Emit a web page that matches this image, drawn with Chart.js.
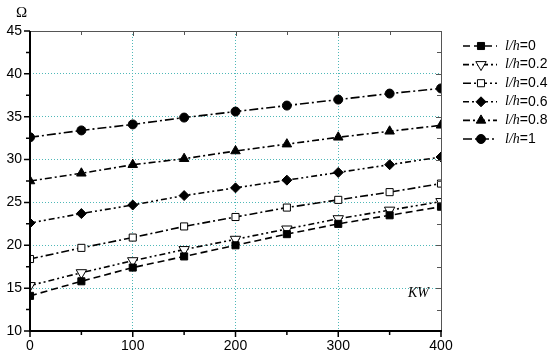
<!DOCTYPE html>
<html>
<head>
<meta charset="utf-8">
<script src="https://cdn.jsdelivr.net/npm/chart.js@4"></script>
<style>
  body { margin: 0; background: #fff; }
  #wrap { width: 550px; height: 356px; }
</style>
</head>
<body>
<div id="wrap"><canvas id="chart" width="550" height="356"></canvas></div>
<script>
// data
const kw = [0, 50, 100, 150, 200, 250, 300, 350, 400];
const lh0  = [14.1, 15.8, 17.4, 18.7, 20.0, 21.3, 22.5, 23.5, 24.5];
const lh02 = [15.3, 16.8, 18.2, 19.5, 20.7, 21.9, 23.1, 24.1, 25.1];
const lh04 = [18.4, 19.7, 20.9, 22.2, 23.3, 24.4, 25.3, 26.2, 27.2];
const lh06 = [22.6, 23.7, 24.7, 25.8, 26.7, 27.6, 28.5, 29.4, 30.3];
const lh08 = [27.5, 28.4, 29.4, 30.1, 31.0, 31.8, 32.6, 33.3, 34.0];
const lh1  = [32.6, 33.4, 34.1, 34.9, 35.6, 36.3, 37.0, 37.7, 38.3];
const seriesNames = ['0', '0.2', '0.4', '0.6', '0.8', '1'];
const yTicks = [10, 15, 20, 25, 30, 35, 40, 45];
const xTicks = [0, 100, 200, 300, 400];

const grid = '#4fb8b8';

const styles = [
    { dash: [7, 4], pt: 'rect', r: 5, fill: '#000', rot: 0 },
    { dash: [6, 3, 2, 3, 2, 3], pt: 'triangle', r: 6, fill: '#fff', rot: 180 },
    { dash: [8, 3, 2, 3], pt: 'rect', r: 5, fill: '#fff', rot: 0 },
    { dash: [6, 3, 2, 3, 2, 3], pt: 'rectRot', r: 5, fill: '#000', rot: 0 },
    { dash: [7, 3, 2, 3], pt: 'triangle', r: 5.5, fill: '#000', rot: 0 },
    { dash: [9, 3, 2, 3], pt: 'circle', r: 4.5, fill: '#000', rot: 0 }
];

const allData = [lh0, lh02, lh04, lh06, lh08, lh1];

const datasets = allData.map((vals, i) => ({
    label: 'l/h=' + seriesNames[i],
    data: kw.map((x, j) => ({ x: x, y: vals[j] })),
    borderColor: '#000',
    borderWidth: 1.6,
    borderDash: styles[i].dash,
    pointStyle: styles[i].pt,
    pointRadius: styles[i].r,
    pointRotation: styles[i].rot,
    pointBackgroundColor: styles[i].fill,
    pointBorderColor: '#000',
    pointBorderWidth: 1,
    fill: false,
    tension: 0
}));

// axis frame, ticks, titles and legend
const decor = {
    id: 'decor',
    afterDraw(chart) {
        const ctx = chart.ctx;
        const xs = chart.scales.x, ys = chart.scales.y;
        const L = xs.left, R = xs.right, T = ys.top, B = ys.bottom;
        ctx.save();
        ctx.setLineDash([]);
        // top and right (thin grey)
        ctx.strokeStyle = '#555';
        ctx.lineWidth = 1;
        ctx.beginPath();
        ctx.moveTo(L, T + 0.5); ctx.lineTo(R, T + 0.5);
        ctx.moveTo(R + 0.5, T); ctx.lineTo(R + 0.5, B);
        for (let v = 50; v < 400; v += 50) {
            const px = Math.round(xs.getPixelForValue(v)) + 0.5;
            ctx.moveTo(px, T); ctx.lineTo(px, T + (v % 100 ? 4 : 5));
        }
        for (let v = 12.5; v < 45; v += 2.5) {
            const py = Math.round(ys.getPixelForValue(v)) + 0.5;
            ctx.moveTo(R, py); ctx.lineTo(R - (v % 5 ? 4 : 5), py);
        }
        ctx.stroke();
        // left and bottom (black)
        ctx.strokeStyle = '#000';
        ctx.lineWidth = 2;
        ctx.beginPath();
        ctx.moveTo(L, T); ctx.lineTo(L, B + 1);
        ctx.moveTo(L - 1, B); ctx.lineTo(R + 1, B);
        ctx.stroke();
        ctx.lineWidth = 1.5;
        ctx.beginPath();
        for (let v = 0; v <= 400; v += 50) {
            const px = xs.getPixelForValue(v);
            ctx.moveTo(px, B); ctx.lineTo(px, B + (v % 100 ? 4 : 6));
        }
        for (let v = 10; v <= 45; v += 2.5) {
            const py = ys.getPixelForValue(v);
            ctx.moveTo(L, py); ctx.lineTo(L - (v % 5 ? 4 : 6), py);
        }
        ctx.stroke();

        // axis titles
        ctx.fillStyle = '#000';
        ctx.font = '15px "Liberation Serif"';
        ctx.textAlign = 'left';
        ctx.textBaseline = 'alphabetic';
        ctx.fillText('\u03A9', 16, 17);
        ctx.font = 'italic 14px "Liberation Serif"';
        ctx.fillText('KW', 408, 297);

        // legend
        const x0 = 463, x1 = 497, xm = 481, tx = 505;
        datasets.forEach((ds, i) => {
            const y = 46 + i * 18.6;
            ctx.strokeStyle = '#000';
            ctx.lineWidth = 1.6;
            ctx.setLineDash(ds.borderDash);
            ctx.beginPath();
            ctx.moveTo(x0, y); ctx.lineTo(x1, y);
            ctx.stroke();
            ctx.setLineDash([]);
            ctx.fillStyle = ds.pointBackgroundColor;
            ctx.strokeStyle = '#000';
            ctx.lineWidth = 1;
            Chart.helpers.drawPoint(ctx, {
                pointStyle: ds.pointStyle,
                rotation: ds.pointRotation,
                radius: ds.pointRadius,
                borderWidth: 1
            }, xm, y);
            ctx.fillStyle = '#000';
            ctx.textBaseline = 'middle';
            ctx.font = 'italic 14px "Liberation Serif"';
            ctx.fillText('l/h', tx, y);
            const w = ctx.measureText('l/h').width;
            ctx.font = '14px "Liberation Sans"';
            ctx.fillText('=' + seriesNames[i], tx + w, y);
        });
        ctx.restore();
    }
};

new Chart(document.getElementById('chart'), {
    type: 'line',
    data: { datasets: datasets },
    options: {
        responsive: false,
        animation: false,
        layout: { padding: { left: 0, top: 31, right: 109, bottom: 0 } },
        plugins: {
            legend: { display: false },
            tooltip: { enabled: false }
        },
        scales: {
            x: {
                type: 'linear',
                min: 0, max: 400,
                afterBuildTicks: s => { s.ticks = xTicks.map(v => ({ value: v })); },
                afterFit: s => { s.height = 25; },
                border: { display: false, dash: [1, 2] },
                grid: {
                    drawTicks: false,
                    color: c => (c.tick.value > 0 && c.tick.value < 400) ? grid : 'transparent',
                    lineWidth: 1
                },
                ticks: {
                    color: '#000',
                    padding: 7,
                    font: { family: 'Liberation Sans', size: 14 }
                }
            },
            y: {
                min: 10, max: 45,
                afterBuildTicks: s => { s.ticks = yTicks.map(v => ({ value: v })); },
                afterFit: s => { s.width = 30; },
                border: { display: false, dash: [1, 2] },
                grid: {
                    drawTicks: false,
                    color: c => (c.tick.value > 10 && c.tick.value < 45) ? grid : 'transparent',
                    lineWidth: 1
                },
                ticks: {
                    color: '#000',
                    padding: 8,
                    font: { family: 'Liberation Sans', size: 14 }
                }
            }
        }
    },
    plugins: [decor]
});
</script>
</body>
</html>
